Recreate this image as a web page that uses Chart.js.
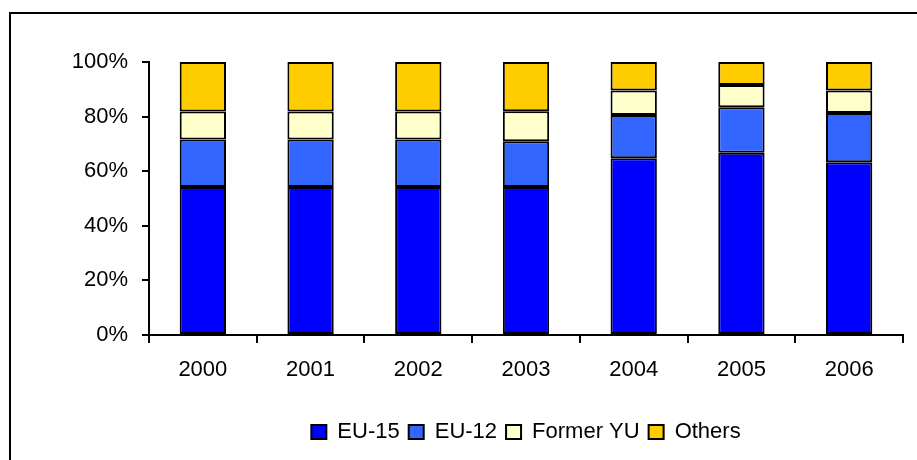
<!DOCTYPE html>
<html>
<head>
<meta charset="utf-8">
<script src="https://cdn.jsdelivr.net/npm/chart.js@4"></script>
<style>
  html, body { margin: 0; padding: 0; background: #fff; }
  #wrap { position: relative; width: 917px; height: 460px; overflow: hidden; }
  #frame { position: absolute; left: 9px; top: 12px; width: 920px; height: 470px; border: 2px solid #000; box-sizing: border-box; pointer-events: none; }
  canvas { position: absolute; left: 0; top: 0; }
</style>
</head>
<body>
<div id="wrap">
  <canvas id="c" width="917" height="460"></canvas>
  <div id="frame"></div>
</div>
<script>
const categories = ['2000', '2001', '2002', '2003', '2004', '2005', '2006'];
const eu15 = [54.2, 54.2, 54.2, 54.2, 64.7, 66.8, 63.3];
const eu12 = [17.4, 17.4, 17.4, 16.8, 15.9, 16.6, 18.0];
const formerYU = [10.3, 10.3, 10.3, 11.0, 9.0, 8.2, 8.3];
const others = [18.1, 18.1, 18.1, 18.0, 10.4, 8.4, 10.4];
const yTicks = [0, 20, 40, 60, 80, 100];

Chart.defaults.font.family = '"Liberation Sans", Arial, sans-serif';
Chart.defaults.color = '#000';

const ds = (label, data, color) => ({
  label, data,
  backgroundColor: color,
  borderColor: '#000',
  borderWidth: 2,
  borderSkipped: false,
  barPercentage: 0.43,
  categoryPercentage: 1.0
});

new Chart(document.getElementById('c'), {
  type: 'bar',
  data: {
    labels: categories,
    datasets: [
      ds('EU-15', eu15, '#0000FF'),
      ds('EU-12', eu12, '#3366FF'),
      ds('Former YU', formerYU, '#FFFFCC'),
      ds('Others', others, '#FFCC00')
    ]
  },
  options: {
    responsive: false,
    animation: false,
    layout: { padding: { left: 0, right: 14, top: 62, bottom: 7 } },
    plugins: {
      tooltip: { enabled: false },
      legend: {
        position: 'bottom',
        fullSize: false,
        labels: {
          font: { size: 22 },
          boxWidth: 15,
          boxHeight: 14,
          padding: 9,
          color: '#000'
        }
      }
    },
    scales: {
      x: {
        stacked: true,
        grid: { display: true, drawOnChartArea: false, drawTicks: true, tickLength: 8, color: '#000', lineWidth: 2, offset: true },
        border: { display: true, color: '#000', width: 2 },
        ticks: { font: { size: 22 }, padding: 14, color: '#000' },
        afterFit: (s) => { s.height = 77; }
      },
      y: {
        stacked: true,
        min: 0, max: 100,
        afterBuildTicks: (s) => { s.ticks = yTicks.map(v => ({ value: v })); },
        grid: { display: true, drawOnChartArea: false, drawTicks: true, tickLength: 7, color: '#000', lineWidth: 2 },
        border: { display: true, color: '#000', width: 2 },
        ticks: { font: { size: 22 }, padding: 14, color: '#000', callback: (v) => v + '%' },
        afterFit: (s) => { s.width = 149; }
      }
    }
  }
});
</script>
</body>
</html>
